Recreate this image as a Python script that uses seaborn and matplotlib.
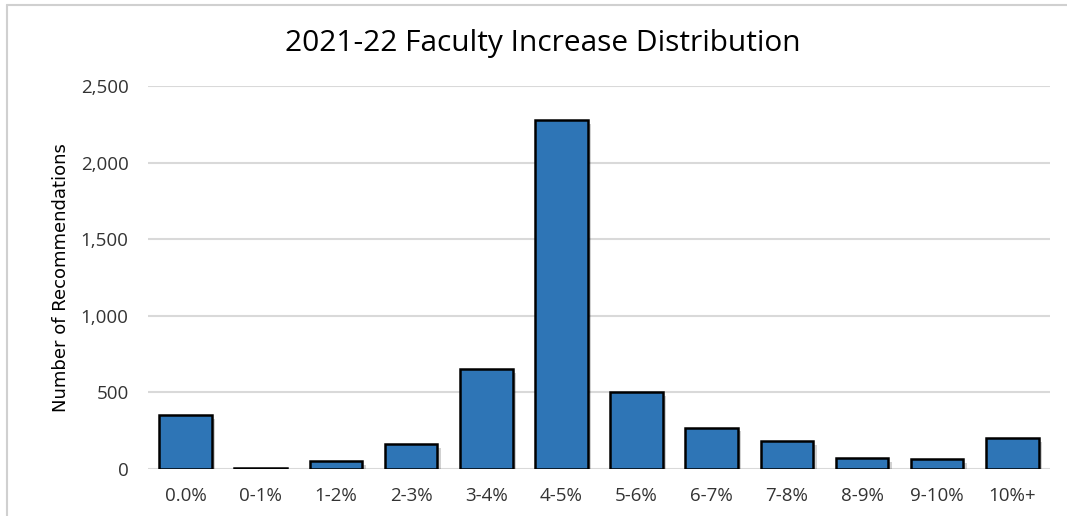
import matplotlib
matplotlib.use("Agg")
import matplotlib.pyplot as plt
import matplotlib.patheffects as pe
from matplotlib.lines import Line2D
import seaborn as sns
import pandas as pd

categories = ["0.0%", "0-1%", "1-2%", "2-3%", "3-4%", "4-5%", "5-6%", "6-7%", "7-8%", "8-9%", "9-10%", "10%+"]
counts = [350, 5, 50, 160, 650, 2275, 500, 270, 180, 70, 65, 200]
yticks = [0, 500, 1000, 1500, 2000, 2500]
ytick_labels = ["0", "500", "1,000", "1,500", "2,000", "2,500"]

df = pd.DataFrame({"Range": categories, "Count": counts})

sns.set_theme(style="white")
plt.rcParams["font.family"] = ["Open Sans", "DejaVu Sans"]

fig = plt.figure(figsize=(10.67, 5.16), dpi=100)
ax = fig.add_axes([0.1387, 0.0911, 0.8453, 0.7422])

sns.barplot(data=df, x="Range", y="Count", color="#2E75B6", saturation=1,
            edgecolor="black", linewidth=1.8, width=0.7, ax=ax, zorder=3)
for p in ax.patches:
    p.set_path_effects([pe.SimplePatchShadow(offset=(2.5, -2.5), shadow_rgbFace="black", alpha=0.18), pe.Normal()])

ax.set_ylim(0, 2500)
ax.set_xlim(-0.5, 11.5)
ax.set_yticks(yticks)
ax.set_yticklabels(ytick_labels, fontsize=13.5, color="#333333")
ax.tick_params(axis="x", labelsize=13.5, colors="#333333", pad=13, length=0)
ax.tick_params(axis="y", pad=14, length=0)
ax.grid(axis="y", color="#d9d9d9", linewidth=1.5, zorder=0)
ax.set_axisbelow(True)
for s in ax.spines.values():
    s.set_visible(False)
ax.set_xlabel("")
ax.set_ylabel("Number of Recommendations", fontsize=13, color="#000000",
              family=["Liberation Sans Narrow", "DejaVu Sans"], labelpad=8)

fig.text(0.509, 0.915, "2021-22 Faculty Increase Distribution", ha="center", va="center",
         fontsize=21.5, color="#000000")

# outer chart border (left and top)
fig.add_artist(Line2D([0.0066, 0.0066], [0, 0.99], color="#d0d0d0", linewidth=1.5, transform=fig.transFigure))
fig.add_artist(Line2D([0.0066, 1.0], [0.99, 0.99], color="#d0d0d0", linewidth=1.5, transform=fig.transFigure))

fig.savefig("out.png", dpi=100)
